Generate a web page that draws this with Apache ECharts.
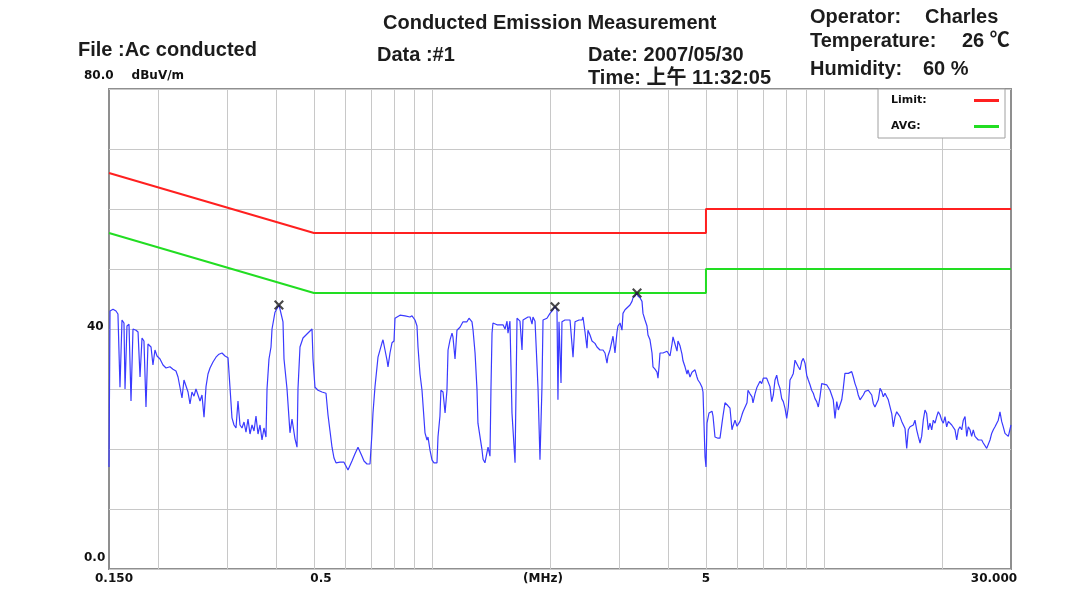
<!DOCTYPE html>
<html>
<head>
<meta charset="utf-8">
<script src="https://cdn.jsdelivr.net/npm/echarts@6.0.0/dist/echarts.min.js"></script>
<style>
html, body { margin: 0; padding: 0; background: #fff; }
#chart { width: 1085px; height: 593px; }
</style>
</head>
<body>
<div id="chart"></div>
<script>
// measured trace, frequency in MHz / level in dBuV
var traceFreq = [
  0.15, 0.1509, 0.1536, 0.1563, 0.1581, 0.1600, 0.1619, 0.1638, 0.1648, 0.1667, 0.1687, 0.1707, 0.1727, 0.1758, 0.1779,
  0.1800, 0.1821, 0.1842, 0.1864, 0.1886, 0.1920, 0.1942, 0.1965, 0.1989, 0.2024, 0.2060, 0.2097, 0.2146, 0.2184, 0.2223,
  0.2250, 0.2276, 0.2303, 0.2330, 0.2358, 0.2386, 0.2414, 0.2442, 0.2471, 0.2500, 0.2530, 0.2560, 0.2590, 0.2621, 0.2652,
  0.2683, 0.2715, 0.2763, 0.2812, 0.2862, 0.2913, 0.2965, 0.3018, 0.3053, 0.3089, 0.3126, 0.3163, 0.3200, 0.3238, 0.3276,
  0.3315, 0.3354, 0.3394, 0.3434, 0.3475, 0.3516, 0.3557, 0.3599, 0.3642, 0.3685, 0.3728, 0.3772, 0.3795, 0.3839, 0.3885,
  0.3908, 0.3977, 0.4072, 0.4168, 0.4193, 0.4268, 0.4343, 0.4395, 0.4473, 0.4526, 0.4552, 0.4606, 0.4688, 0.4771, 0.4856,
  0.4943, 0.4972, 0.5030, 0.5120, 0.5241, 0.5366, 0.5429, 0.5494, 0.5559, 0.5624, 0.5691,
  0.5826, 0.5964, 0.6106, 0.6251, 0.6363, 0.6476, 0.6630, 0.6708, 0.6827, 0.6949, 0.7031, 0.7072, 0.7156, 0.7283, 0.7456,
  0.7500, 0.7589, 0.7678, 0.7724, 0.7815, 0.7907, 0.8001, 0.8048, 0.8288, 0.8535, 0.8789, 0.8893, 0.9051, 0.9158, 0.9212,
  0.9321, 0.9431, 0.9598, 0.9712, 0.9769, 0.9885, 1.000, 1.012, 1.030, 1.036, 1.048, 1.054, 1.067, 1.080, 1.092,
  1.099, 1.112, 1.125, 1.131, 1.145, 1.158, 1.179, 1.200, 1.228, 1.243, 1.250, 1.265, 1.273, 1.288, 1.303,
  1.310, 1.342, 1.350, 1.365, 1.390, 1.406, 1.414, 1.423, 1.431, 1.465, 1.491, 1.518, 1.536, 1.554, 1.563,
  1.581, 1.600, 1.629, 1.648, 1.658, 1.677, 1.697, 1.707, 1.727, 1.758, 1.779, 1.800, 1.810, 1.832, 1.853,
  1.864, 1.886, 1.908, 1.920, 1.965, 2.000, 2.036, 2.060, 2.084, 2.096, 2.109, 2.134, 2.146, 2.184, 2.223,
  2.250, 2.276, 2.290, 2.317, 2.372, 2.414, 2.428, 2.457, 2.486, 2.500, 2.530, 2.560, 2.605, 2.636, 2.683,
  2.731, 2.763, 2.796, 2.812, 2.845, 2.896, 2.930, 2.965, 2.982, 3.018, 3.053, 3.071, 3.108, 3.144, 3.200,
  3.238, 3.257, 3.296, 3.335, 3.354, 3.394, 3.434, 3.454, 3.495, 3.536, 3.557, 3.599, 3.642, 3.663, 3.706,
  3.750, 3.772, 3.795, 3.817, 3.862, 3.885, 3.977, 4.001, 4.048, 4.096, 4.120, 4.168, 4.218, 4.242, 4.293,
  4.343, 4.369, 4.421, 4.473, 4.499, 4.552, 4.606, 4.633, 4.688, 4.743, 4.771, 4.828, 4.885, 4.914, 4.972,
  5.001, 5.030, 5.090, 5.180, 5.211, 5.272, 5.366, 5.430, 5.494, 5.526, 5.591, 5.657, 5.691, 5.758, 5.826,
  5.860, 5.930, 6.000, 6.106, 6.178, 6.215, 6.363, 6.400, 6.476, 6.552, 6.591, 6.669, 6.748,
  6.868, 6.936, 7.002, 7.072, 7.143, 7.211, 7.283, 7.356, 7.426, 7.500, 7.576, 7.647, 7.724, 7.801, 7.875,
  7.954, 8.034, 8.110, 8.191, 8.273, 8.352, 8.435, 8.520, 8.600, 8.687, 8.774, 8.857, 8.946, 9.036, 9.121,
  9.212, 9.304, 9.392, 9.486, 9.582, 9.672, 9.769, 9.867, 9.960, 10.16, 10.26, 10.36, 10.46, 10.56, 10.67,
  10.78, 10.88, 10.99, 11.10, 11.20, 11.31, 11.43, 11.54, 11.65, 11.77, 11.88, 12.00, 12.12, 12.23, 12.36,
  12.48, 12.60, 12.73, 12.85, 12.97, 13.10, 13.24, 13.36, 13.49, 13.63, 13.76, 13.90, 14.04, 14.17, 14.31,
  14.46, 14.59, 14.74, 14.89, 15.03, 15.18, 15.33, 15.47, 15.63, 15.79, 15.94, 16.10, 16.26, 16.41, 16.58,
  16.74, 16.90, 17.07, 17.24, 17.40, 17.58, 17.75, 17.92, 18.10, 18.28, 18.46, 18.64, 18.83, 19.01, 19.20,
  19.39, 19.57, 19.77, 19.97, 20.16, 20.36, 20.56, 20.76, 20.96, 21.18, 21.37, 21.59, 21.81, 22.01, 22.23,
  22.46, 22.67, 22.90, 23.13, 23.34, 23.58, 23.81, 24.04, 24.28, 24.52, 24.76, 25.00, 25.26, 25.49, 25.75,
  26.01, 26.25, 26.52, 26.78, 27.04, 27.31, 27.58, 27.84, 28.12, 28.40, 28.67, 28.96, 29.25, 29.53, 29.82,
  30.00
];
var traceLevel = [
  17, 43, 43.3, 43, 42.5, 30.3, 41.5, 41, 30, 40.5, 40.8, 28, 40, 39.8, 39.5,
  32, 38.5, 38, 27, 37.5, 37, 34, 36.5, 35.5, 35, 34, 33.5, 33.7, 33.3, 33,
  32, 32.3, 28.5, 31.5, 30.5, 29.5, 27.5, 29.5, 28.8, 30, 29, 28, 29, 25.3, 30.4,
  32.5, 33.5, 34.5, 35.3, 35.8, 36, 35.5, 35.2, 30.3, 25.2, 24, 23.5, 28, 24, 23.5,
  24.5, 22.8, 25, 22.5, 24, 23, 25.5, 22.5, 24, 21.5, 23.5, 22, 30, 35, 37,
  40, 42.8, 44, 41.2, 35, 30, 22.7, 25, 21.7, 20.3, 30, 37, 38.5, 39, 39.5,
  40, 35, 30.3, 29.8, 29.5, 29.3, 25.7, 23, 20.3, 18.5, 17.7,
  17.8, 17.8, 16.5, 18, 19.2, 20.3, 18.8, 18, 17.5, 17.5, 22.7, 26, 30.4, 35.3, 37.7,
  38.2, 36.5, 34.8, 33.7, 36, 37.7, 38, 41.8, 42.3, 42.2, 42, 42.2, 41.5, 40.5, 37,
  32.5, 29.8, 22.7, 21.5, 22, 19.8, 18.2, 17.7, 17.7, 22, 25.5, 29.8, 29.5, 26, 29.8,
  36.5, 38.2, 39.3, 38.7, 35, 39.8, 40.3, 41.2, 41.2, 41.8, 42, 41.2, 39.8, 36, 29.8,
  24.3, 19.8, 18.3, 17.7, 20.3, 18.8, 29.8, 39.3, 41, 40.7, 40.7, 40.7, 40, 41.3, 39.3,
  41.3, 26, 17.7, 41.8, 41.5, 41.3, 36.5, 41.5, 41.8, 42, 42, 40.8, 42, 41.3, 41.5,
  30.3, 18.2, 30.3, 41.5, 41.8, 42.6, 43.2, 43.8, 43.2, 28.2, 41.2, 31, 41.2, 41.5, 41.5,
  41.5, 41.2, 35.3, 41.2, 41.5, 41.5, 42, 39.5, 36.8, 39.8, 39, 38, 37.6, 37, 36.5,
  36.5, 36, 34.3, 35.5, 36.5, 38.8, 36, 39.5, 40.5, 41, 39.8, 42.6, 43.2, 43, 44,
  44.6, 45.2, 45.5, 46, 45.5, 45.2, 44.6, 42.6, 41.5, 40.5, 39, 38.2, 36, 33.7, 33.3,
  32.8, 31.8, 33.7, 36, 36.3, 36, 36.3, 36.5, 35.5, 37.5, 38.7, 37.5, 36.3, 38, 37.2,
  35.8, 34.7, 33.7, 32.5, 33.2, 32, 32.8, 32.5, 33.2, 32, 31.5, 31, 30.3, 29.5, 18.7,
  17, 24.3, 26, 26.3, 25.5, 22, 21.8, 21.8, 24.3, 25.5, 27.7, 28, 27.2, 26.8, 23.2,
  23.8, 24.8, 23.8, 24.6, 25.7, 26.2, 27.7, 29.8, 29.2, 28.7, 27.7, 29.2, 30.3,
  31.3, 30.9, 31.8, 31.5, 31.8, 32, 30.4, 27.9, 29, 31.5, 32.3, 30.9, 30.1, 28.4, 27.9,
  26.8, 25.1, 27, 31.5, 32, 32.6, 34.8, 35.1, 33.7, 33.2, 34.6, 35.1, 34.3, 32.3, 31.5,
  30.7, 29.8, 29.3, 28.4, 27.9, 27, 28.7, 30.9, 31.2, 30.7, 30.9, 29.8, 29, 28.2, 25.1,
  27.9, 26.5, 26.8, 28.2, 30.1, 32.6, 32.9, 32.6, 32.9, 32.9, 32, 30.9, 30.1, 29, 28.2,
  27.9, 29, 29.6, 29.3, 29.8, 29.8, 29, 27.6, 27, 26.8, 28.2, 30.1, 29.6, 28.7, 29.3,
  28.7, 28.2, 27.9, 25.9, 23.7, 25.4, 26.2, 25.9, 25.4, 24.6, 24.3, 23.4, 20.1, 23.2, 23.7,
  23.4, 24, 24.8, 23.2, 22.1, 21, 22.1, 24.8, 26.5, 25.9, 23.2, 24.3, 23.2, 24.8, 24.3,
  25.4, 26.2, 25.7, 24.8, 24.3, 25.4, 23.7, 24.6, 24.8, 24, 23.7, 23.2, 21.5, 23.2, 23.7,
  23.2, 24.8, 25.4, 22.1, 23.7, 23.2, 22.1, 23.2, 22.1, 21.8, 21.5, 21.2, 21.5, 21, 20.7,
  20.1, 19.8, 21.5, 22.6, 23.2, 23.7, 23.4, 24.8, 26.2, 24.6, 23.7, 22.6, 22.3, 22.1, 21.8,
  24
];

// limit lines (quasi-peak limit and average limit)
var limitFreq = [0.15, 0.5, 5, 5, 30];
var limitLevel = [66, 56, 56, 60, 60];
var avgLevel = [56, 46, 46, 50, 50];

// marked peaks
var peakFreq = [0.407, 2.06, 3.335];
var peakLevel = [44, 43.7, 46];

// axes
var gridFreq = [0.2, 0.3, 0.4, 0.5, 0.6, 0.7, 0.8, 0.9, 1, 2, 3, 4, 5, 6, 7, 8, 9, 10, 20];
var xTickValues = [0.15, 0.5, 5, 30];
var xTickLabels = ['0.150', '0.5', '5', '30.000'];
var yTickValues = [0, 40, 80];
var yTickLabels = ['0.0', '40', '80.0'];

function zip(xs, ys) {
  return xs.map(function (x, i) { return [x, ys[i]]; });
}

var labelFont = '"DejaVu Sans", sans-serif';
var headFont = '"Liberation Sans", "Noto Sans CJK SC", sans-serif';

function headText(text, x, y) {
  return {
    type: 'text', x: x, y: y, z: 10,
    style: {
      text: text, fill: '#1c1c1c', fontFamily: headFont, fontWeight: 'bold', fontSize: 20,
      align: 'left', verticalAlign: 'middle'
    }
  };
}

// small nudges of the x tick labels, as in the original printout
var xTickPad = [[0, 0, 0, 10], [0, 0, 0, 14], [0, 0, 0, 0], [0, 34, 0, 0]];

// vertical grid lines + x tick labels, placed through the log axis
var markData = gridFreq.map(function (f) {
  return { xAxis: f };
});
xTickValues.forEach(function (f, k) {
  markData.push({
    xAxis: f,
    lineStyle: { color: 'rgba(0,0,0,0)', width: 0 },
    label: { show: true, formatter: xTickLabels[k], padding: xTickPad[k] }
  });
});

var chart = echarts.init(document.getElementById('chart'));
var option = {
  animation: false,
  backgroundColor: '#fff',
  graphic: [
    headText('Conducted Emission Measurement', 383, 23),
    headText('File :Ac conducted', 78, 50),
    headText('Data :#1', 377, 55),
    headText('Date: 2007/05/30', 588, 55),
    headText('Time: 上午 11:32:05', 588, 78),
    headText('Operator:', 810, 17),
    headText('Charles', 925, 17),
    headText('Temperature:', 810, 41),
    headText('26 ℃', 962, 41),
    headText('Humidity:', 810, 69),
    headText('60 %', 923, 69)
  ],
  grid: {
    left: 109, top: 89, width: 902, height: 480,
    show: true, borderColor: '#8f8f8f', borderWidth: 2, backgroundColor: '#fff'
  },
  legend: {
    left: 878, top: 89, orient: 'vertical', align: 'right',
    itemWidth: 25, itemHeight: 3, itemGap: 15, icon: 'rect',
    padding: [6, 6, 6, 13],
    backgroundColor: '#fff', borderColor: '#a0a0a0', borderWidth: 1,
    selectedMode: false,
    formatter: function (n) { return '{n|' + n + '}'; },
    textStyle: {
      color: '#111',
      rich: { n: { width: 78, align: 'left', fontFamily: labelFont, fontWeight: 'bold', fontSize: 11, color: '#111' } }
    },
    data: ['Limit:', 'AVG:']
  },
  xAxis: {
    type: 'log', logBase: 10, min: 0.15, max: 30,
    axisLine: { show: false }, axisTick: { show: false },
    splitLine: { show: false }, axisLabel: { show: false },
    name: '(MHz)', nameLocation: 'middle', nameGap: 4,
    nameTextStyle: {
      fontFamily: labelFont, fontWeight: 'bold', fontSize: 12, color: '#111',
      padding: [0, 34, 0, 0], verticalAlign: 'top'
    }
  },
  yAxis: {
    type: 'value', min: 0, max: 80, interval: 10,
    axisLine: { show: false }, axisTick: { show: false },
    splitLine: { lineStyle: { color: '#c8c8c8', width: 1 } },
    axisLabel: {
      align: 'left', margin: 25, verticalAlign: 'middle',
      formatter: function (v) {
        var k = yTickValues.indexOf(v);
        if (k < 0) return '';
        if (k === 0) return '{lo|' + yTickLabels[k] + '}';
        if (k === 1) return '{mid|' + yTickLabels[k] + '}';
        return '{hi|' + yTickLabels[k] + '}{u|dBuV/m}';
      },
      rich: {
        lo: { fontFamily: labelFont, fontWeight: 'bold', fontSize: 12, color: '#111', padding: [0, 0, 23, 0] },
        mid: { fontFamily: labelFont, fontWeight: 'bold', fontSize: 12, color: '#111', padding: [0, 0, 4, 3] },
        hi: { fontFamily: labelFont, fontWeight: 'bold', fontSize: 12, color: '#111', padding: [0, 0, 26, 0] },
        u: { fontFamily: labelFont, fontWeight: 'bold', fontSize: 12, color: '#111', padding: [0, 0, 26, 18] }
      }
    }
  },
  series: [
    {
      name: 'Limit:', type: 'line', z: 2,
      data: zip(limitFreq, limitLevel),
      symbol: 'none', color: '#ff2020',
      lineStyle: { color: '#ff2020', width: 2 },
      markLine: {
        silent: true, z: 1, symbol: ['none', 'none'],
        lineStyle: { color: '#c8c8c8', width: 1, type: 'solid' },
        label: {
          show: false, position: 'start', distance: 4,
          fontFamily: labelFont, fontWeight: 'bold', fontSize: 12, color: '#111'
        },
        emphasis: { disabled: true },
        data: markData
      }
    },
    {
      name: 'AVG:', type: 'line', z: 2,
      data: zip(limitFreq, avgLevel),
      symbol: 'none', color: '#22dd22',
      lineStyle: { color: '#22dd22', width: 2 }
    },
    {
      name: 'trace', type: 'line', z: 3,
      data: zip(traceFreq, traceLevel),
      symbol: 'none', showSymbol: false,
      lineStyle: { color: '#3a3aff', width: 1.2 }
    },
    {
      name: 'peaks', type: 'scatter', z: 4,
      data: zip(peakFreq, peakLevel),
      symbol: 'path://M0,1.5L1.5,0L5,3.5L8.5,0L10,1.5L6.5,5L10,8.5L8.5,10L5,6.5L1.5,10L0,8.5L3.5,5Z',
      symbolSize: 10,
      itemStyle: { color: '#1a1a1a' }
    }
  ]
};
chart.setOption(option);
</script>
</body>
</html>
